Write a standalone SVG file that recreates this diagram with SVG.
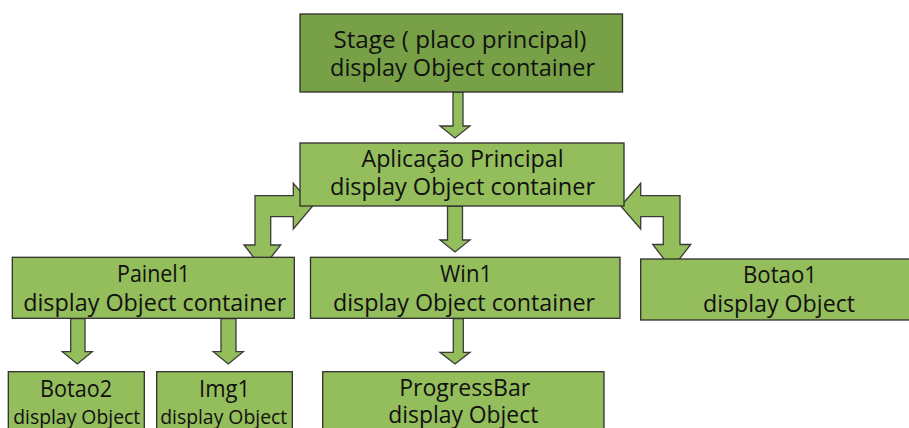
<svg xmlns="http://www.w3.org/2000/svg" width="909" height="428" viewBox="0 0 909 428">
<style>
.box{fill:#94BD5C;stroke:#2F2F2F;stroke-width:1.3}
.dark{fill:#78A147}
.arr{fill:#94BD5C;stroke:#3A3A3A;stroke-width:1.3;stroke-linejoin:miter}
text{font-family:"Open Sans","Noto Sans","Liberation Sans",sans-serif;font-size:24px;fill:#111;text-anchor:middle}
.sm{font-size:20px}
</style>
<rect width="909" height="428" fill="#fff"/>
<g id="connectors">
<polygon class="arr" points="453,92 463,92 463,126 470,126 455,138 440,126 453,126"/>
<polygon class="arr" points="312.7,206 293.3,183.3 293.3,195.7 255,195.7 255,245 244,245 262.3,268.3 280.7,245 270.7,245 270.7,216.7 293.3,216.7 293.3,229"/>
<polygon class="arr" points="620.7,206 640.7,183.3 640.7,195.7 680,195.7 680,244.5 690.7,244.5 671.7,269 652.7,244.5 663.3,244.5 663.3,216.7 640.7,216.7 640.7,229"/>
<polygon class="arr" points="447.5,206 462.5,206 462.5,240 470,240 455,252 440,240 447.5,240"/>
<polygon class="arr" points="70.7,318.5 85,318.5 85,351.7 92.3,351.7 77.3,364 62.3,351.7 70.7,351.7"/>
<polygon class="arr" points="221,318.5 236,318.5 236,351.7 243.3,351.7 228.3,364 213.3,351.7 221,351.7"/>
<polygon class="arr" points="453.3,318.5 463.3,318.5 463.3,352.3 470,352.3 455,364 440,352.3 453.3,352.3"/>
</g>
<g id="stage">
<rect class="box dark" x="300" y="14" width="322.5" height="78"/>
<text x="460" y="48" textLength="253" lengthAdjust="spacingAndGlyphs">Stage ( placo principal)</text>
<text x="462.5" y="76" textLength="265" lengthAdjust="spacingAndGlyphs">display Object container</text>
</g>
<g id="aplicacao">
<rect class="box" x="300" y="143" width="324" height="63"/>
<text x="462.5" y="167" textLength="202" lengthAdjust="spacingAndGlyphs">Aplicação Principal</text>
<text x="462.5" y="195" textLength="265" lengthAdjust="spacingAndGlyphs">display Object container</text>
</g>
<g id="painel1">
<rect class="box" x="12.3" y="257.3" width="282" height="61"/>
<text x="153.5" y="282" textLength="73" lengthAdjust="spacingAndGlyphs">Painel1</text>
<text x="154.7" y="311" textLength="263" lengthAdjust="spacingAndGlyphs">display Object container</text>
</g>
<g id="win1">
<rect class="box" x="310.5" y="257.3" width="309.5" height="61"/>
<text x="466" y="282" textLength="52" lengthAdjust="spacingAndGlyphs">Win1</text>
<text x="464" y="311" textLength="262" lengthAdjust="spacingAndGlyphs">display Object container</text>
</g>
<g id="botao1">
<rect class="box" x="640.7" y="259" width="275" height="61"/>
<text x="780" y="283" textLength="74" lengthAdjust="spacingAndGlyphs">Botao1</text>
<text x="779" y="312" textLength="152" lengthAdjust="spacingAndGlyphs">display Object</text>
</g>
<g id="botao2">
<rect class="box" x="8.3" y="371.7" width="136" height="70"/>
<text x="76" y="396.5" textLength="72" lengthAdjust="spacingAndGlyphs">Botao2</text>
<text class="sm" x="76.7" y="423.5" textLength="127" lengthAdjust="spacingAndGlyphs">display Object</text>
</g>
<g id="img1">
<rect class="box" x="156.7" y="371.7" width="135.6" height="70"/>
<text x="224.5" y="396.5" textLength="51" lengthAdjust="spacingAndGlyphs">Img1</text>
<text class="sm" x="223.7" y="423.5" textLength="127" lengthAdjust="spacingAndGlyphs">display Object</text>
</g>
<g id="progressbar">
<rect class="box" x="322.7" y="371.7" width="281.3" height="70"/>
<text x="464.7" y="396" textLength="131" lengthAdjust="spacingAndGlyphs">ProgressBar</text>
<text x="463.3" y="423" textLength="150" lengthAdjust="spacingAndGlyphs">display Object</text>
</g>
</svg>
